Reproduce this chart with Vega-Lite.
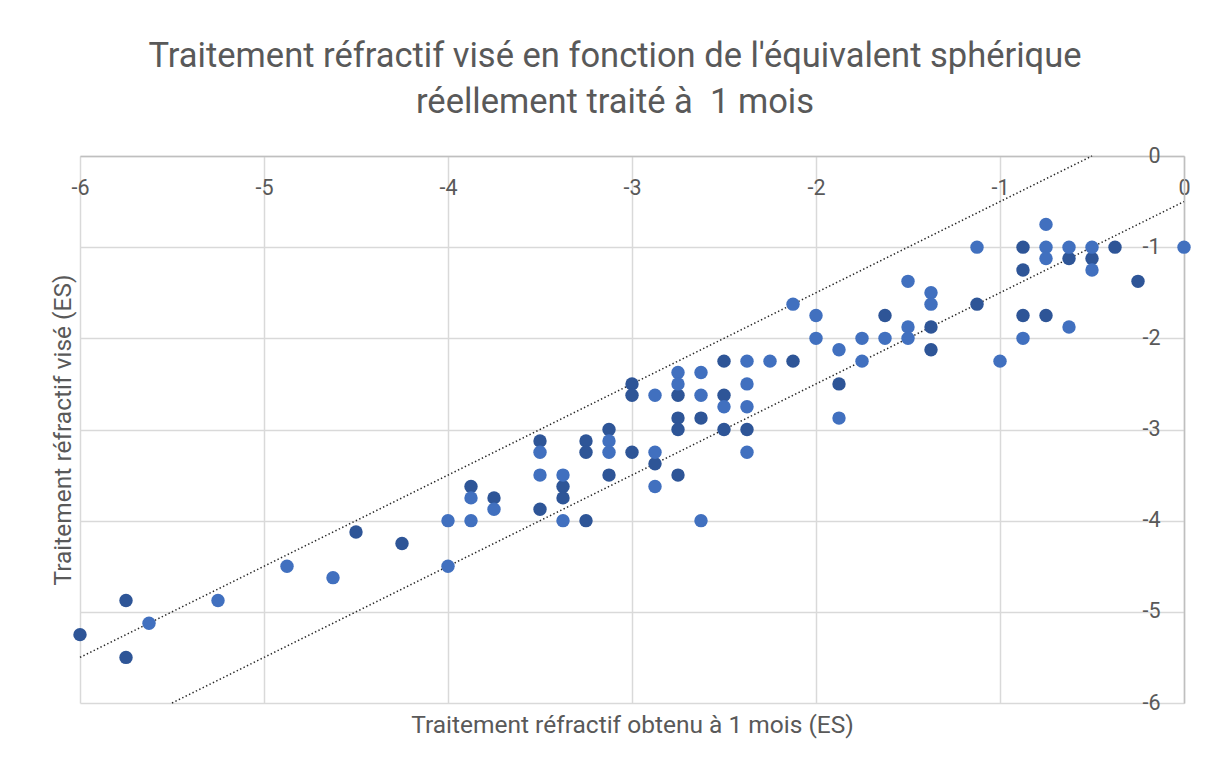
{
  "$schema": "https://vega.github.io/schema/vega-lite/v6.json",
  "width": 1104,
  "height": 547,
  "autosize": {"type": "none"},
  "padding": {"left": 80, "top": 156, "right": 24, "bottom": 63},
  "background": "white",
  "title": {
    "text": ["Traitement réfractif visé en fonction de l'équivalent sphérique", "réellement traité à \u00a01 mois"],
    "font": "Roboto",
    "fontSize": 34.5,
    "fontWeight": "normal",
    "color": "#595959",
    "lineHeight": 46,
    "anchor": "middle",
    "frame": "group",
    "dx": -17,
    "offset": -9,
    "baseline": "bottom"
  },
  "config": {
    "view": {"stroke": null},
    "axis": {
      "grid": true,
      "gridColor": "#d9d9d9",
      "gridWidth": 1.5,
      "domain": true,
      "domainColor": "#bfbfbf",
      "domainWidth": 1.5,
      "ticks": false,
      "tickSize": 0,
      "labelFont": "Roboto",
      "labelFontSize": 21.5,
      "labelColor": "#595959",
      "labelFlush": false,
      "labelOverlap": false,
      "labelBound": false,
      "titleFont": "Roboto",
      "titleFontSize": 24.5,
      "titleFontWeight": "normal",
      "titleColor": "#595959"
    }
  },
  "datasets": {
    "lignes": [
      {"l": "haut", "x": -6, "y": -5.5},
      {"l": "haut", "x": -0.5, "y": 0},
      {"l": "bas", "x": -5.5, "y": -6},
      {"l": "bas", "x": 0, "y": -0.5}
    ],
    "points": [
      {"s": "A", "x": -0.875, "y": -1},
      {"s": "A", "x": -0.625, "y": -1.125},
      {"s": "A", "x": -0.5, "y": -1.125},
      {"s": "A", "x": -0.375, "y": -1},
      {"s": "A", "x": -0.875, "y": -1.25},
      {"s": "A", "x": -0.25, "y": -1.375},
      {"s": "A", "x": -1.125, "y": -1.625},
      {"s": "A", "x": -1.625, "y": -1.75},
      {"s": "A", "x": -1.375, "y": -1.875},
      {"s": "A", "x": -0.875, "y": -1.75},
      {"s": "A", "x": -0.75, "y": -1.75},
      {"s": "A", "x": -1.375, "y": -2.125},
      {"s": "A", "x": -1.875, "y": -2.5},
      {"s": "A", "x": -2.5, "y": -2.25},
      {"s": "A", "x": -2.125, "y": -2.25},
      {"s": "A", "x": -3, "y": -2.5},
      {"s": "A", "x": -3, "y": -2.625},
      {"s": "A", "x": -2.75, "y": -2.625},
      {"s": "A", "x": -2.5, "y": -2.625},
      {"s": "A", "x": -2.75, "y": -2.875},
      {"s": "A", "x": -2.625, "y": -2.875},
      {"s": "A", "x": -2.75, "y": -3},
      {"s": "A", "x": -2.5, "y": -3},
      {"s": "A", "x": -2.375, "y": -3},
      {"s": "A", "x": -3.125, "y": -3},
      {"s": "A", "x": -3.25, "y": -3.125},
      {"s": "A", "x": -3.25, "y": -3.25},
      {"s": "A", "x": -3.5, "y": -3.125},
      {"s": "A", "x": -3, "y": -3.25},
      {"s": "A", "x": -2.875, "y": -3.375},
      {"s": "A", "x": -2.75, "y": -3.5},
      {"s": "A", "x": -3.125, "y": -3.5},
      {"s": "A", "x": -3.375, "y": -3.625},
      {"s": "A", "x": -3.375, "y": -3.75},
      {"s": "A", "x": -3.5, "y": -3.875},
      {"s": "A", "x": -3.875, "y": -3.625},
      {"s": "A", "x": -3.75, "y": -3.75},
      {"s": "A", "x": -3.25, "y": -4},
      {"s": "A", "x": -4.25, "y": -4.25},
      {"s": "A", "x": -4.5, "y": -4.125},
      {"s": "A", "x": -5.75, "y": -4.875},
      {"s": "A", "x": -6, "y": -5.25},
      {"s": "A", "x": -5.75, "y": -5.5},
      {"s": "B", "x": -1.125, "y": -1},
      {"s": "B", "x": -0.75, "y": -0.75},
      {"s": "B", "x": -0.75, "y": -1},
      {"s": "B", "x": -0.75, "y": -1.125},
      {"s": "B", "x": -0.625, "y": -1},
      {"s": "B", "x": -0.5, "y": -1},
      {"s": "B", "x": -0.5, "y": -1.25},
      {"s": "B", "x": 0, "y": -1},
      {"s": "B", "x": -1.5, "y": -1.375},
      {"s": "B", "x": -1.375, "y": -1.5},
      {"s": "B", "x": -1.375, "y": -1.625},
      {"s": "B", "x": -2, "y": -1.75},
      {"s": "B", "x": -1.5, "y": -1.875},
      {"s": "B", "x": -0.625, "y": -1.875},
      {"s": "B", "x": -2, "y": -2},
      {"s": "B", "x": -1.875, "y": -2.125},
      {"s": "B", "x": -1.75, "y": -2},
      {"s": "B", "x": -1.625, "y": -2},
      {"s": "B", "x": -1.5, "y": -2},
      {"s": "B", "x": -1.75, "y": -2.25},
      {"s": "B", "x": -1.875, "y": -2.875},
      {"s": "B", "x": -1, "y": -2.25},
      {"s": "B", "x": -0.875, "y": -2},
      {"s": "B", "x": -2.125, "y": -1.625},
      {"s": "B", "x": -2.375, "y": -2.25},
      {"s": "B", "x": -2.25, "y": -2.25},
      {"s": "B", "x": -2.75, "y": -2.375},
      {"s": "B", "x": -2.625, "y": -2.375},
      {"s": "B", "x": -2.75, "y": -2.5},
      {"s": "B", "x": -2.375, "y": -2.5},
      {"s": "B", "x": -2.875, "y": -2.625},
      {"s": "B", "x": -2.625, "y": -2.625},
      {"s": "B", "x": -2.5, "y": -2.75},
      {"s": "B", "x": -2.375, "y": -2.75},
      {"s": "B", "x": -2.375, "y": -3.25},
      {"s": "B", "x": -3.125, "y": -3.125},
      {"s": "B", "x": -3.125, "y": -3.25},
      {"s": "B", "x": -3.5, "y": -3.25},
      {"s": "B", "x": -2.875, "y": -3.25},
      {"s": "B", "x": -2.875, "y": -3.625},
      {"s": "B", "x": -3.5, "y": -3.5},
      {"s": "B", "x": -3.375, "y": -3.5},
      {"s": "B", "x": -3.875, "y": -3.75},
      {"s": "B", "x": -3.75, "y": -3.875},
      {"s": "B", "x": -4, "y": -4},
      {"s": "B", "x": -3.875, "y": -4},
      {"s": "B", "x": -3.375, "y": -4},
      {"s": "B", "x": -2.625, "y": -4},
      {"s": "B", "x": -4, "y": -4.5},
      {"s": "B", "x": -4.875, "y": -4.5},
      {"s": "B", "x": -4.625, "y": -4.625},
      {"s": "B", "x": -5.25, "y": -4.875},
      {"s": "B", "x": -5.625, "y": -5.125}
    ]
  },
  "encoding": {
    "x": {
      "field": "x",
      "type": "quantitative",
      "scale": {"domain": [-6, 0], "nice": false, "zero": false},
      "axis": {
        "orient": "top",
        "values": [-6, -5, -4, -3, -2, -1, 0],
        "labelExpr": "toString(datum.value)",
        "labelPadding": -32,
        "labelBaseline": "middle",
        "labelAlign": "center",
        "title": "Traitement réfractif obtenu à 1 mois (ES)",
        "titleY": 576,
        "titleX": 552,
        "titleBaseline": "alphabetic",
        "titleAlign": "center"
      }
    },
    "y": {
      "field": "y",
      "type": "quantitative",
      "scale": {"domain": [-6, 0], "nice": false, "zero": false},
      "axis": {
        "orient": "right",
        "values": [-6, -5, -4, -3, -2, -1, 0],
        "labelExpr": "toString(datum.value)",
        "labelPadding": -24,
        "labelAlign": "right",
        "labelBaseline": "middle",
        "title": "Traitement réfractif visé (ES)",
        "titleAngle": -90,
        "titleX": -1114,
        "titleY": 273.5,
        "titleBaseline": "alphabetic",
        "titleAlign": "center"
      }
    }
  },
  "layer": [
    {
      "data": {"name": "lignes"},
      "mark": {"type": "line", "strokeDash": [1.4, 2.4], "strokeWidth": 1.5, "color": "#262626"},
      "encoding": {"detail": {"field": "l", "type": "nominal"}}
    },
    {
      "data": {"name": "points"},
      "mark": {"type": "circle", "size": 180, "opacity": 1},
      "encoding": {
        "color": {
          "field": "s",
          "type": "nominal",
          "scale": {"domain": ["A", "B"], "range": ["#2E5597", "#4170BF"]},
          "legend": null
        }
      }
    }
  ]
}
